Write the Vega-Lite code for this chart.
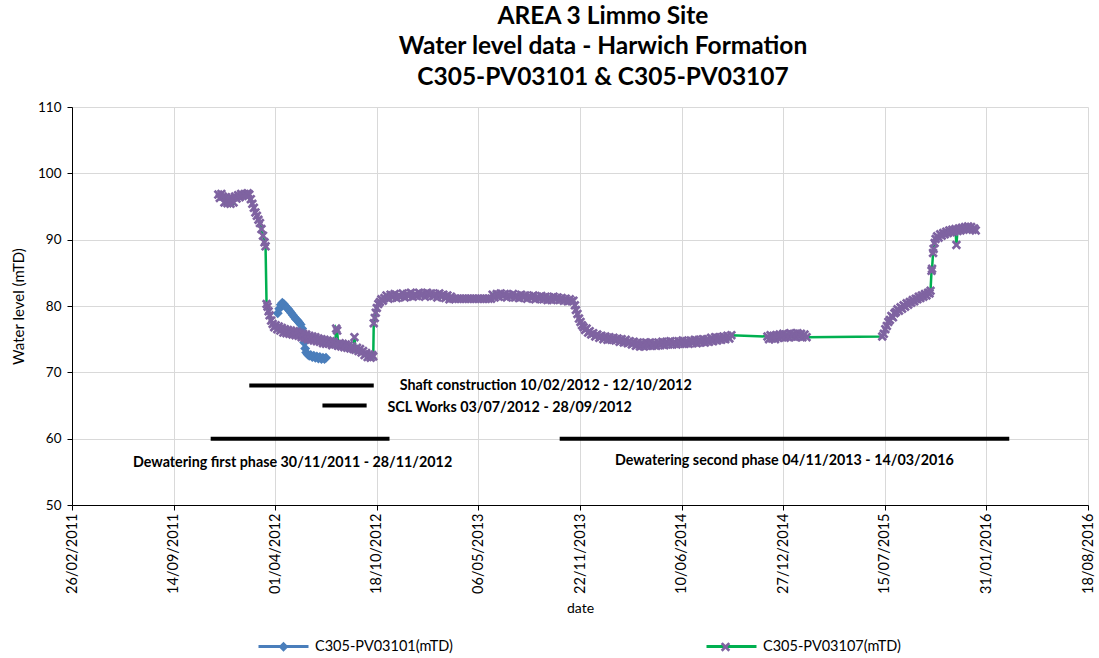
{
"$schema": "https://vega.github.io/schema/vega-lite/v6.json",
"width": 1016, "height": 398,
"autosize": {"type": "none"},
"padding": {"left": 72, "top": 107, "right": 11, "bottom": 153},
"background": "white",
"config": {"view": {"stroke": null}, "font": "Lato"},
"title": {"text": ["AREA 3 Limmo Site", "Water level data - Harwich Formation", "C305-PV03101 & C305-PV03107"], "font": "Lato", "fontSize": 24.5, "fontWeight": "bold", "color": "black", "lineHeight": 30.5, "anchor": "middle", "dx": 23, "offset": 10},
"datasets": {
"phases": [
{"date": "2012-02-10", "end": "2012-10-12", "level": 68},
{"date": "2012-07-03", "end": "2012-09-28", "level": 65},
{"date": "2011-11-26", "end": "2012-11-12", "level": 60},
{"date": "2013-10-13", "end": "2016-03-16", "level": 60}
],
"notes": [
{"date": "2012-12-02", "level": 67.9, "note": "Shaft construction 10/02/2012 - 12/10/2012"},
{"date": "2012-11-08", "level": 64.6, "note": "SCL Works 03/07/2012 - 28/09/2012"},
{"date": "2011-06-26", "level": 56.3, "note": "Dewatering first phase 30/11/2011 - 28/11/2012"},
{"date": "2014-01-30", "level": 56.6, "note": "Dewatering second phase 04/11/2013 - 14/03/2016"}
],
"levels": [
{"date":"2012-04-06","series":"C305-PV03101(mTD)","level":78.9},
{"date":"2012-04-09","series":"C305-PV03101(mTD)","level":79.6},
{"date":"2012-04-12","series":"C305-PV03101(mTD)","level":80.2},
{"date":"2012-04-15","series":"C305-PV03101(mTD)","level":80.5},
{"date":"2012-04-18","series":"C305-PV03101(mTD)","level":80.3},
{"date":"2012-04-21","series":"C305-PV03101(mTD)","level":80.0},
{"date":"2012-04-24","series":"C305-PV03101(mTD)","level":79.7},
{"date":"2012-04-27","series":"C305-PV03101(mTD)","level":79.5},
{"date":"2012-04-30","series":"C305-PV03101(mTD)","level":79.2},
{"date":"2012-05-03","series":"C305-PV03101(mTD)","level":78.9},
{"date":"2012-05-06","series":"C305-PV03101(mTD)","level":78.6},
{"date":"2012-05-09","series":"C305-PV03101(mTD)","level":78.3},
{"date":"2012-05-12","series":"C305-PV03101(mTD)","level":78.0},
{"date":"2012-05-15","series":"C305-PV03101(mTD)","level":77.8},
{"date":"2012-05-18","series":"C305-PV03101(mTD)","level":77.5},
{"date":"2012-05-21","series":"C305-PV03101(mTD)","level":77.2},
{"date":"2012-05-24","series":"C305-PV03101(mTD)","level":76.6},
{"date":"2012-05-26","series":"C305-PV03101(mTD)","level":75.6},
{"date":"2012-05-28","series":"C305-PV03101(mTD)","level":74.5},
{"date":"2012-05-30","series":"C305-PV03101(mTD)","level":73.6},
{"date":"2012-06-01","series":"C305-PV03101(mTD)","level":73.0},
{"date":"2012-06-04","series":"C305-PV03101(mTD)","level":72.7},
{"date":"2012-06-07","series":"C305-PV03101(mTD)","level":72.5},
{"date":"2012-06-10","series":"C305-PV03101(mTD)","level":72.6},
{"date":"2012-06-13","series":"C305-PV03101(mTD)","level":72.3},
{"date":"2012-06-16","series":"C305-PV03101(mTD)","level":72.5},
{"date":"2012-06-19","series":"C305-PV03101(mTD)","level":72.2},
{"date":"2012-06-22","series":"C305-PV03101(mTD)","level":72.4},
{"date":"2012-06-25","series":"C305-PV03101(mTD)","level":72.1},
{"date":"2012-06-28","series":"C305-PV03101(mTD)","level":72.3},
{"date":"2012-07-01","series":"C305-PV03101(mTD)","level":72.0},
{"date":"2012-07-04","series":"C305-PV03101(mTD)","level":72.2},
{"date":"2012-07-07","series":"C305-PV03101(mTD)","level":72.0},
{"date":"2012-07-10","series":"C305-PV03101(mTD)","level":72.2},
{"date":"2011-12-11","series":"C305-PV03107(mTD)","level":96.8},
{"date":"2011-12-14","series":"C305-PV03107(mTD)","level":96.3},
{"date":"2011-12-17","series":"C305-PV03107(mTD)","level":96.9},
{"date":"2011-12-20","series":"C305-PV03107(mTD)","level":96.5},
{"date":"2011-12-23","series":"C305-PV03107(mTD)","level":95.6},
{"date":"2011-12-26","series":"C305-PV03107(mTD)","level":96.4},
{"date":"2011-12-29","series":"C305-PV03107(mTD)","level":95.5},
{"date":"2012-01-01","series":"C305-PV03107(mTD)","level":96.2},
{"date":"2012-01-04","series":"C305-PV03107(mTD)","level":95.4},
{"date":"2012-01-07","series":"C305-PV03107(mTD)","level":96.3},
{"date":"2012-01-10","series":"C305-PV03107(mTD)","level":95.6},
{"date":"2012-01-13","series":"C305-PV03107(mTD)","level":96.5},
{"date":"2012-01-16","series":"C305-PV03107(mTD)","level":96.2},
{"date":"2012-01-19","series":"C305-PV03107(mTD)","level":96.7},
{"date":"2012-01-22","series":"C305-PV03107(mTD)","level":96.4},
{"date":"2012-01-25","series":"C305-PV03107(mTD)","level":96.9},
{"date":"2012-01-28","series":"C305-PV03107(mTD)","level":96.6},
{"date":"2012-02-01","series":"C305-PV03107(mTD)","level":96.9},
{"date":"2012-02-04","series":"C305-PV03107(mTD)","level":96.6},
{"date":"2012-02-07","series":"C305-PV03107(mTD)","level":97.0},
{"date":"2012-02-10","series":"C305-PV03107(mTD)","level":96.8},
{"date":"2012-02-13","series":"C305-PV03107(mTD)","level":96.1},
{"date":"2012-02-16","series":"C305-PV03107(mTD)","level":95.4},
{"date":"2012-02-19","series":"C305-PV03107(mTD)","level":94.8},
{"date":"2012-02-22","series":"C305-PV03107(mTD)","level":94.1},
{"date":"2012-02-25","series":"C305-PV03107(mTD)","level":93.6},
{"date":"2012-02-28","series":"C305-PV03107(mTD)","level":93.0},
{"date":"2012-03-02","series":"C305-PV03107(mTD)","level":92.5},
{"date":"2012-03-05","series":"C305-PV03107(mTD)","level":91.6},
{"date":"2012-03-08","series":"C305-PV03107(mTD)","level":90.6},
{"date":"2012-03-11","series":"C305-PV03107(mTD)","level":89.6},
{"date":"2012-03-13","series":"C305-PV03107(mTD)","level":89.0},
{"date":"2012-03-15","series":"C305-PV03107(mTD)","level":80.3},
{"date":"2012-03-17","series":"C305-PV03107(mTD)","level":79.9},
{"date":"2012-03-19","series":"C305-PV03107(mTD)","level":79.2},
{"date":"2012-03-21","series":"C305-PV03107(mTD)","level":78.6},
{"date":"2012-03-24","series":"C305-PV03107(mTD)","level":77.8},
{"date":"2012-03-27","series":"C305-PV03107(mTD)","level":77.3},
{"date":"2012-03-30","series":"C305-PV03107(mTD)","level":76.8},
{"date":"2012-04-02","series":"C305-PV03107(mTD)","level":77.1},
{"date":"2012-04-05","series":"C305-PV03107(mTD)","level":76.5},
{"date":"2012-04-08","series":"C305-PV03107(mTD)","level":76.9},
{"date":"2012-04-11","series":"C305-PV03107(mTD)","level":76.3},
{"date":"2012-04-14","series":"C305-PV03107(mTD)","level":76.7},
{"date":"2012-04-17","series":"C305-PV03107(mTD)","level":76.0},
{"date":"2012-04-20","series":"C305-PV03107(mTD)","level":76.5},
{"date":"2012-04-23","series":"C305-PV03107(mTD)","level":75.9},
{"date":"2012-04-26","series":"C305-PV03107(mTD)","level":76.4},
{"date":"2012-04-29","series":"C305-PV03107(mTD)","level":75.8},
{"date":"2012-05-02","series":"C305-PV03107(mTD)","level":76.3},
{"date":"2012-05-05","series":"C305-PV03107(mTD)","level":75.7},
{"date":"2012-05-08","series":"C305-PV03107(mTD)","level":76.2},
{"date":"2012-05-11","series":"C305-PV03107(mTD)","level":75.6},
{"date":"2012-05-14","series":"C305-PV03107(mTD)","level":76.1},
{"date":"2012-05-17","series":"C305-PV03107(mTD)","level":75.5},
{"date":"2012-05-20","series":"C305-PV03107(mTD)","level":75.9},
{"date":"2012-05-23","series":"C305-PV03107(mTD)","level":75.3},
{"date":"2012-05-26","series":"C305-PV03107(mTD)","level":75.8},
{"date":"2012-05-29","series":"C305-PV03107(mTD)","level":75.2},
{"date":"2012-06-01","series":"C305-PV03107(mTD)","level":75.7},
{"date":"2012-06-04","series":"C305-PV03107(mTD)","level":75.0},
{"date":"2012-06-07","series":"C305-PV03107(mTD)","level":75.5},
{"date":"2012-06-10","series":"C305-PV03107(mTD)","level":74.9},
{"date":"2012-06-13","series":"C305-PV03107(mTD)","level":75.4},
{"date":"2012-06-16","series":"C305-PV03107(mTD)","level":74.8},
{"date":"2012-06-19","series":"C305-PV03107(mTD)","level":75.3},
{"date":"2012-06-22","series":"C305-PV03107(mTD)","level":74.7},
{"date":"2012-06-25","series":"C305-PV03107(mTD)","level":75.1},
{"date":"2012-06-28","series":"C305-PV03107(mTD)","level":74.6},
{"date":"2012-07-01","series":"C305-PV03107(mTD)","level":75.0},
{"date":"2012-07-04","series":"C305-PV03107(mTD)","level":74.4},
{"date":"2012-07-07","series":"C305-PV03107(mTD)","level":74.9},
{"date":"2012-07-10","series":"C305-PV03107(mTD)","level":74.3},
{"date":"2012-07-13","series":"C305-PV03107(mTD)","level":74.8},
{"date":"2012-07-16","series":"C305-PV03107(mTD)","level":74.3},
{"date":"2012-07-19","series":"C305-PV03107(mTD)","level":74.7},
{"date":"2012-07-22","series":"C305-PV03107(mTD)","level":74.1},
{"date":"2012-07-25","series":"C305-PV03107(mTD)","level":74.6},
{"date":"2012-07-28","series":"C305-PV03107(mTD)","level":74.2},
{"date":"2012-07-30","series":"C305-PV03107(mTD)","level":76.6},
{"date":"2012-08-01","series":"C305-PV03107(mTD)","level":76.3},
{"date":"2012-08-03","series":"C305-PV03107(mTD)","level":74.0},
{"date":"2012-08-06","series":"C305-PV03107(mTD)","level":74.4},
{"date":"2012-08-09","series":"C305-PV03107(mTD)","level":73.9},
{"date":"2012-08-12","series":"C305-PV03107(mTD)","level":74.3},
{"date":"2012-08-15","series":"C305-PV03107(mTD)","level":73.8},
{"date":"2012-08-18","series":"C305-PV03107(mTD)","level":74.2},
{"date":"2012-08-21","series":"C305-PV03107(mTD)","level":73.7},
{"date":"2012-08-24","series":"C305-PV03107(mTD)","level":74.1},
{"date":"2012-08-27","series":"C305-PV03107(mTD)","level":73.6},
{"date":"2012-08-30","series":"C305-PV03107(mTD)","level":73.9},
{"date":"2012-09-02","series":"C305-PV03107(mTD)","level":73.5},
{"date":"2012-09-04","series":"C305-PV03107(mTD)","level":75.3},
{"date":"2012-09-06","series":"C305-PV03107(mTD)","level":73.4},
{"date":"2012-09-09","series":"C305-PV03107(mTD)","level":73.7},
{"date":"2012-09-12","series":"C305-PV03107(mTD)","level":73.2},
{"date":"2012-09-15","series":"C305-PV03107(mTD)","level":73.5},
{"date":"2012-09-18","series":"C305-PV03107(mTD)","level":73.0},
{"date":"2012-09-21","series":"C305-PV03107(mTD)","level":73.2},
{"date":"2012-09-24","series":"C305-PV03107(mTD)","level":72.6},
{"date":"2012-09-27","series":"C305-PV03107(mTD)","level":72.9},
{"date":"2012-09-30","series":"C305-PV03107(mTD)","level":72.3},
{"date":"2012-10-03","series":"C305-PV03107(mTD)","level":72.7},
{"date":"2012-10-06","series":"C305-PV03107(mTD)","level":72.2},
{"date":"2012-10-09","series":"C305-PV03107(mTD)","level":72.6},
{"date":"2012-10-11","series":"C305-PV03107(mTD)","level":72.4},
{"date":"2012-10-12","series":"C305-PV03107(mTD)","level":77.4},
{"date":"2012-10-14","series":"C305-PV03107(mTD)","level":78.2},
{"date":"2012-10-16","series":"C305-PV03107(mTD)","level":79.0},
{"date":"2012-10-18","series":"C305-PV03107(mTD)","level":79.7},
{"date":"2012-10-21","series":"C305-PV03107(mTD)","level":80.3},
{"date":"2012-10-24","series":"C305-PV03107(mTD)","level":80.6},
{"date":"2012-10-27","series":"C305-PV03107(mTD)","level":81.0},
{"date":"2012-10-30","series":"C305-PV03107(mTD)","level":80.8},
{"date":"2012-11-02","series":"C305-PV03107(mTD)","level":81.2},
{"date":"2012-11-06","series":"C305-PV03107(mTD)","level":81.6},
{"date":"2012-11-10","series":"C305-PV03107(mTD)","level":81.1},
{"date":"2012-11-14","series":"C305-PV03107(mTD)","level":81.7},
{"date":"2012-11-18","series":"C305-PV03107(mTD)","level":81.3},
{"date":"2012-11-22","series":"C305-PV03107(mTD)","level":81.8},
{"date":"2012-11-26","series":"C305-PV03107(mTD)","level":81.2},
{"date":"2012-11-30","series":"C305-PV03107(mTD)","level":81.6},
{"date":"2012-12-04","series":"C305-PV03107(mTD)","level":81.4},
{"date":"2012-12-08","series":"C305-PV03107(mTD)","level":81.9},
{"date":"2012-12-12","series":"C305-PV03107(mTD)","level":81.3},
{"date":"2012-12-16","series":"C305-PV03107(mTD)","level":81.8},
{"date":"2012-12-20","series":"C305-PV03107(mTD)","level":81.5},
{"date":"2012-12-24","series":"C305-PV03107(mTD)","level":82.0},
{"date":"2012-12-28","series":"C305-PV03107(mTD)","level":81.4},
{"date":"2013-01-01","series":"C305-PV03107(mTD)","level":81.8},
{"date":"2013-01-05","series":"C305-PV03107(mTD)","level":81.5},
{"date":"2013-01-09","series":"C305-PV03107(mTD)","level":82.0},
{"date":"2013-01-13","series":"C305-PV03107(mTD)","level":81.6},
{"date":"2013-01-17","series":"C305-PV03107(mTD)","level":81.9},
{"date":"2013-01-21","series":"C305-PV03107(mTD)","level":81.4},
{"date":"2013-01-25","series":"C305-PV03107(mTD)","level":82.0},
{"date":"2013-01-29","series":"C305-PV03107(mTD)","level":81.6},
{"date":"2013-02-02","series":"C305-PV03107(mTD)","level":81.9},
{"date":"2013-02-06","series":"C305-PV03107(mTD)","level":81.5},
{"date":"2013-02-10","series":"C305-PV03107(mTD)","level":81.8},
{"date":"2013-02-14","series":"C305-PV03107(mTD)","level":81.3},
{"date":"2013-02-18","series":"C305-PV03107(mTD)","level":81.9},
{"date":"2013-02-22","series":"C305-PV03107(mTD)","level":81.4},
{"date":"2013-02-26","series":"C305-PV03107(mTD)","level":81.7},
{"date":"2013-03-02","series":"C305-PV03107(mTD)","level":81.2},
{"date":"2013-03-06","series":"C305-PV03107(mTD)","level":81.6},
{"date":"2013-03-10","series":"C305-PV03107(mTD)","level":81.0},
{"date":"2013-03-13","series":"C305-PV03107(mTD)","level":81.4},
{"date":"2013-03-17","series":"C305-PV03107(mTD)","level":81.1},
{"date":"2013-03-22","series":"C305-PV03107(mTD)","level":81.1},
{"date":"2013-03-27","series":"C305-PV03107(mTD)","level":81.1},
{"date":"2013-04-01","series":"C305-PV03107(mTD)","level":81.1},
{"date":"2013-04-06","series":"C305-PV03107(mTD)","level":81.1},
{"date":"2013-04-11","series":"C305-PV03107(mTD)","level":81.1},
{"date":"2013-04-16","series":"C305-PV03107(mTD)","level":81.1},
{"date":"2013-04-21","series":"C305-PV03107(mTD)","level":81.1},
{"date":"2013-04-26","series":"C305-PV03107(mTD)","level":81.1},
{"date":"2013-05-01","series":"C305-PV03107(mTD)","level":81.1},
{"date":"2013-05-06","series":"C305-PV03107(mTD)","level":81.1},
{"date":"2013-05-11","series":"C305-PV03107(mTD)","level":81.1},
{"date":"2013-05-16","series":"C305-PV03107(mTD)","level":81.1},
{"date":"2013-05-21","series":"C305-PV03107(mTD)","level":81.1},
{"date":"2013-05-26","series":"C305-PV03107(mTD)","level":81.1},
{"date":"2013-05-31","series":"C305-PV03107(mTD)","level":81.1},
{"date":"2013-06-03","series":"C305-PV03107(mTD)","level":81.7},
{"date":"2013-06-07","series":"C305-PV03107(mTD)","level":81.3},
{"date":"2013-06-11","series":"C305-PV03107(mTD)","level":81.8},
{"date":"2013-06-15","series":"C305-PV03107(mTD)","level":81.4},
{"date":"2013-06-19","series":"C305-PV03107(mTD)","level":81.9},
{"date":"2013-06-23","series":"C305-PV03107(mTD)","level":81.5},
{"date":"2013-06-27","series":"C305-PV03107(mTD)","level":81.8},
{"date":"2013-07-01","series":"C305-PV03107(mTD)","level":81.3},
{"date":"2013-07-05","series":"C305-PV03107(mTD)","level":81.7},
{"date":"2013-07-09","series":"C305-PV03107(mTD)","level":81.4},
{"date":"2013-07-13","series":"C305-PV03107(mTD)","level":81.8},
{"date":"2013-07-17","series":"C305-PV03107(mTD)","level":81.3},
{"date":"2013-07-21","series":"C305-PV03107(mTD)","level":81.6},
{"date":"2013-07-25","series":"C305-PV03107(mTD)","level":81.2},
{"date":"2013-07-29","series":"C305-PV03107(mTD)","level":81.7},
{"date":"2013-08-02","series":"C305-PV03107(mTD)","level":81.3},
{"date":"2013-08-06","series":"C305-PV03107(mTD)","level":81.6},
{"date":"2013-08-10","series":"C305-PV03107(mTD)","level":81.1},
{"date":"2013-08-14","series":"C305-PV03107(mTD)","level":81.5},
{"date":"2013-08-18","series":"C305-PV03107(mTD)","level":81.2},
{"date":"2013-08-22","series":"C305-PV03107(mTD)","level":81.6},
{"date":"2013-08-26","series":"C305-PV03107(mTD)","level":81.0},
{"date":"2013-08-30","series":"C305-PV03107(mTD)","level":81.4},
{"date":"2013-09-03","series":"C305-PV03107(mTD)","level":81.1},
{"date":"2013-09-07","series":"C305-PV03107(mTD)","level":81.5},
{"date":"2013-09-11","series":"C305-PV03107(mTD)","level":81.0},
{"date":"2013-09-15","series":"C305-PV03107(mTD)","level":81.4},
{"date":"2013-09-19","series":"C305-PV03107(mTD)","level":80.9},
{"date":"2013-09-23","series":"C305-PV03107(mTD)","level":81.3},
{"date":"2013-09-27","series":"C305-PV03107(mTD)","level":80.9},
{"date":"2013-10-01","series":"C305-PV03107(mTD)","level":81.4},
{"date":"2013-10-05","series":"C305-PV03107(mTD)","level":81.0},
{"date":"2013-10-09","series":"C305-PV03107(mTD)","level":81.3},
{"date":"2013-10-13","series":"C305-PV03107(mTD)","level":80.9},
{"date":"2013-10-17","series":"C305-PV03107(mTD)","level":81.2},
{"date":"2013-10-21","series":"C305-PV03107(mTD)","level":80.8},
{"date":"2013-10-25","series":"C305-PV03107(mTD)","level":81.1},
{"date":"2013-10-29","series":"C305-PV03107(mTD)","level":80.7},
{"date":"2013-11-02","series":"C305-PV03107(mTD)","level":81.0},
{"date":"2013-11-06","series":"C305-PV03107(mTD)","level":80.7},
{"date":"2013-11-09","series":"C305-PV03107(mTD)","level":80.8},
{"date":"2013-11-12","series":"C305-PV03107(mTD)","level":80.1},
{"date":"2013-11-14","series":"C305-PV03107(mTD)","level":79.4},
{"date":"2013-11-17","series":"C305-PV03107(mTD)","level":78.8},
{"date":"2013-11-20","series":"C305-PV03107(mTD)","level":78.1},
{"date":"2013-11-23","series":"C305-PV03107(mTD)","level":77.6},
{"date":"2013-11-26","series":"C305-PV03107(mTD)","level":77.1},
{"date":"2013-11-29","series":"C305-PV03107(mTD)","level":76.8},
{"date":"2013-12-02","series":"C305-PV03107(mTD)","level":76.4},
{"date":"2013-12-05","series":"C305-PV03107(mTD)","level":76.6},
{"date":"2013-12-08","series":"C305-PV03107(mTD)","level":76.0},
{"date":"2013-12-11","series":"C305-PV03107(mTD)","level":76.2},
{"date":"2013-12-14","series":"C305-PV03107(mTD)","level":75.7},
{"date":"2013-12-18","series":"C305-PV03107(mTD)","level":75.9},
{"date":"2013-12-22","series":"C305-PV03107(mTD)","level":75.4},
{"date":"2013-12-26","series":"C305-PV03107(mTD)","level":75.7},
{"date":"2013-12-30","series":"C305-PV03107(mTD)","level":75.2},
{"date":"2014-01-03","series":"C305-PV03107(mTD)","level":75.5},
{"date":"2014-01-07","series":"C305-PV03107(mTD)","level":75.0},
{"date":"2014-01-11","series":"C305-PV03107(mTD)","level":75.4},
{"date":"2014-01-15","series":"C305-PV03107(mTD)","level":74.9},
{"date":"2014-01-19","series":"C305-PV03107(mTD)","level":75.3},
{"date":"2014-01-23","series":"C305-PV03107(mTD)","level":74.9},
{"date":"2014-01-27","series":"C305-PV03107(mTD)","level":75.2},
{"date":"2014-01-31","series":"C305-PV03107(mTD)","level":74.8},
{"date":"2014-02-04","series":"C305-PV03107(mTD)","level":75.1},
{"date":"2014-02-08","series":"C305-PV03107(mTD)","level":74.6},
{"date":"2014-02-12","series":"C305-PV03107(mTD)","level":75.0},
{"date":"2014-02-16","series":"C305-PV03107(mTD)","level":74.5},
{"date":"2014-02-20","series":"C305-PV03107(mTD)","level":74.9},
{"date":"2014-02-24","series":"C305-PV03107(mTD)","level":74.4},
{"date":"2014-02-28","series":"C305-PV03107(mTD)","level":74.7},
{"date":"2014-03-04","series":"C305-PV03107(mTD)","level":74.2},
{"date":"2014-03-08","series":"C305-PV03107(mTD)","level":74.6},
{"date":"2014-03-12","series":"C305-PV03107(mTD)","level":74.0},
{"date":"2014-03-16","series":"C305-PV03107(mTD)","level":74.5},
{"date":"2014-03-20","series":"C305-PV03107(mTD)","level":73.9},
{"date":"2014-03-24","series":"C305-PV03107(mTD)","level":74.4},
{"date":"2014-03-28","series":"C305-PV03107(mTD)","level":73.9},
{"date":"2014-04-01","series":"C305-PV03107(mTD)","level":74.5},
{"date":"2014-04-05","series":"C305-PV03107(mTD)","level":74.0},
{"date":"2014-04-09","series":"C305-PV03107(mTD)","level":74.5},
{"date":"2014-04-13","series":"C305-PV03107(mTD)","level":74.0},
{"date":"2014-04-17","series":"C305-PV03107(mTD)","level":74.4},
{"date":"2014-04-21","series":"C305-PV03107(mTD)","level":74.0},
{"date":"2014-04-25","series":"C305-PV03107(mTD)","level":74.5},
{"date":"2014-04-29","series":"C305-PV03107(mTD)","level":74.1},
{"date":"2014-05-03","series":"C305-PV03107(mTD)","level":74.6},
{"date":"2014-05-07","series":"C305-PV03107(mTD)","level":74.1},
{"date":"2014-05-11","series":"C305-PV03107(mTD)","level":74.6},
{"date":"2014-05-15","series":"C305-PV03107(mTD)","level":74.2},
{"date":"2014-05-19","series":"C305-PV03107(mTD)","level":74.7},
{"date":"2014-05-23","series":"C305-PV03107(mTD)","level":74.2},
{"date":"2014-05-27","series":"C305-PV03107(mTD)","level":74.6},
{"date":"2014-05-31","series":"C305-PV03107(mTD)","level":74.2},
{"date":"2014-06-04","series":"C305-PV03107(mTD)","level":74.7},
{"date":"2014-06-08","series":"C305-PV03107(mTD)","level":74.3},
{"date":"2014-06-12","series":"C305-PV03107(mTD)","level":74.8},
{"date":"2014-06-16","series":"C305-PV03107(mTD)","level":74.3},
{"date":"2014-06-20","series":"C305-PV03107(mTD)","level":74.7},
{"date":"2014-06-24","series":"C305-PV03107(mTD)","level":74.3},
{"date":"2014-06-28","series":"C305-PV03107(mTD)","level":74.8},
{"date":"2014-07-02","series":"C305-PV03107(mTD)","level":74.4},
{"date":"2014-07-06","series":"C305-PV03107(mTD)","level":74.9},
{"date":"2014-07-10","series":"C305-PV03107(mTD)","level":74.4},
{"date":"2014-07-14","series":"C305-PV03107(mTD)","level":74.9},
{"date":"2014-07-18","series":"C305-PV03107(mTD)","level":74.5},
{"date":"2014-07-22","series":"C305-PV03107(mTD)","level":75.0},
{"date":"2014-07-26","series":"C305-PV03107(mTD)","level":74.5},
{"date":"2014-07-30","series":"C305-PV03107(mTD)","level":75.0},
{"date":"2014-08-03","series":"C305-PV03107(mTD)","level":74.6},
{"date":"2014-08-07","series":"C305-PV03107(mTD)","level":75.2},
{"date":"2014-08-11","series":"C305-PV03107(mTD)","level":74.7},
{"date":"2014-08-15","series":"C305-PV03107(mTD)","level":75.3},
{"date":"2014-08-19","series":"C305-PV03107(mTD)","level":74.8},
{"date":"2014-08-23","series":"C305-PV03107(mTD)","level":75.3},
{"date":"2014-08-27","series":"C305-PV03107(mTD)","level":74.9},
{"date":"2014-08-31","series":"C305-PV03107(mTD)","level":75.4},
{"date":"2014-09-04","series":"C305-PV03107(mTD)","level":75.0},
{"date":"2014-09-08","series":"C305-PV03107(mTD)","level":75.5},
{"date":"2014-09-12","series":"C305-PV03107(mTD)","level":75.1},
{"date":"2014-09-16","series":"C305-PV03107(mTD)","level":75.6},
{"date":"2014-11-26","series":"C305-PV03107(mTD)","level":75.4},
{"date":"2014-11-29","series":"C305-PV03107(mTD)","level":75.0},
{"date":"2014-12-02","series":"C305-PV03107(mTD)","level":75.6},
{"date":"2014-12-05","series":"C305-PV03107(mTD)","level":75.1},
{"date":"2014-12-08","series":"C305-PV03107(mTD)","level":75.5},
{"date":"2014-12-11","series":"C305-PV03107(mTD)","level":75.0},
{"date":"2014-12-14","series":"C305-PV03107(mTD)","level":75.6},
{"date":"2014-12-17","series":"C305-PV03107(mTD)","level":75.2},
{"date":"2014-12-20","series":"C305-PV03107(mTD)","level":75.7},
{"date":"2014-12-23","series":"C305-PV03107(mTD)","level":75.3},
{"date":"2014-12-27","series":"C305-PV03107(mTD)","level":75.8},
{"date":"2014-12-30","series":"C305-PV03107(mTD)","level":75.2},
{"date":"2015-01-03","series":"C305-PV03107(mTD)","level":75.7},
{"date":"2015-01-06","series":"C305-PV03107(mTD)","level":75.3},
{"date":"2015-01-10","series":"C305-PV03107(mTD)","level":75.9},
{"date":"2015-01-13","series":"C305-PV03107(mTD)","level":75.4},
{"date":"2015-01-17","series":"C305-PV03107(mTD)","level":75.8},
{"date":"2015-01-20","series":"C305-PV03107(mTD)","level":75.3},
{"date":"2015-01-24","series":"C305-PV03107(mTD)","level":75.9},
{"date":"2015-01-27","series":"C305-PV03107(mTD)","level":75.4},
{"date":"2015-01-31","series":"C305-PV03107(mTD)","level":75.8},
{"date":"2015-02-03","series":"C305-PV03107(mTD)","level":75.3},
{"date":"2015-02-07","series":"C305-PV03107(mTD)","level":75.7},
{"date":"2015-02-11","series":"C305-PV03107(mTD)","level":75.3},
{"date":"2015-07-10","series":"C305-PV03107(mTD)","level":75.4},
{"date":"2015-07-13","series":"C305-PV03107(mTD)","level":75.8},
{"date":"2015-07-16","series":"C305-PV03107(mTD)","level":76.5},
{"date":"2015-07-19","series":"C305-PV03107(mTD)","level":77.0},
{"date":"2015-07-22","series":"C305-PV03107(mTD)","level":77.6},
{"date":"2015-07-25","series":"C305-PV03107(mTD)","level":77.9},
{"date":"2015-07-28","series":"C305-PV03107(mTD)","level":78.5},
{"date":"2015-07-31","series":"C305-PV03107(mTD)","level":78.3},
{"date":"2015-08-03","series":"C305-PV03107(mTD)","level":78.9},
{"date":"2015-08-06","series":"C305-PV03107(mTD)","level":79.1},
{"date":"2015-08-09","series":"C305-PV03107(mTD)","level":79.5},
{"date":"2015-08-12","series":"C305-PV03107(mTD)","level":79.3},
{"date":"2015-08-15","series":"C305-PV03107(mTD)","level":79.8},
{"date":"2015-08-18","series":"C305-PV03107(mTD)","level":79.6},
{"date":"2015-08-21","series":"C305-PV03107(mTD)","level":80.1},
{"date":"2015-08-24","series":"C305-PV03107(mTD)","level":79.9},
{"date":"2015-08-27","series":"C305-PV03107(mTD)","level":80.4},
{"date":"2015-08-30","series":"C305-PV03107(mTD)","level":80.2},
{"date":"2015-09-02","series":"C305-PV03107(mTD)","level":80.6},
{"date":"2015-09-05","series":"C305-PV03107(mTD)","level":80.5},
{"date":"2015-09-08","series":"C305-PV03107(mTD)","level":80.9},
{"date":"2015-09-11","series":"C305-PV03107(mTD)","level":80.7},
{"date":"2015-09-14","series":"C305-PV03107(mTD)","level":81.1},
{"date":"2015-09-17","series":"C305-PV03107(mTD)","level":81.0},
{"date":"2015-09-20","series":"C305-PV03107(mTD)","level":81.4},
{"date":"2015-09-23","series":"C305-PV03107(mTD)","level":81.2},
{"date":"2015-09-26","series":"C305-PV03107(mTD)","level":81.6},
{"date":"2015-09-29","series":"C305-PV03107(mTD)","level":81.4},
{"date":"2015-10-02","series":"C305-PV03107(mTD)","level":81.8},
{"date":"2015-10-05","series":"C305-PV03107(mTD)","level":81.6},
{"date":"2015-10-08","series":"C305-PV03107(mTD)","level":82.0},
{"date":"2015-10-11","series":"C305-PV03107(mTD)","level":81.9},
{"date":"2015-10-13","series":"C305-PV03107(mTD)","level":82.3},
{"date":"2015-10-15","series":"C305-PV03107(mTD)","level":85.3},
{"date":"2015-10-16","series":"C305-PV03107(mTD)","level":85.6},
{"date":"2015-10-18","series":"C305-PV03107(mTD)","level":88.0},
{"date":"2015-10-19","series":"C305-PV03107(mTD)","level":88.6},
{"date":"2015-10-21","series":"C305-PV03107(mTD)","level":89.5},
{"date":"2015-10-23","series":"C305-PV03107(mTD)","level":90.1},
{"date":"2015-10-26","series":"C305-PV03107(mTD)","level":90.5},
{"date":"2015-10-29","series":"C305-PV03107(mTD)","level":90.3},
{"date":"2015-11-01","series":"C305-PV03107(mTD)","level":90.8},
{"date":"2015-11-04","series":"C305-PV03107(mTD)","level":90.6},
{"date":"2015-11-07","series":"C305-PV03107(mTD)","level":91.0},
{"date":"2015-11-10","series":"C305-PV03107(mTD)","level":90.8},
{"date":"2015-11-13","series":"C305-PV03107(mTD)","level":91.2},
{"date":"2015-11-16","series":"C305-PV03107(mTD)","level":91.0},
{"date":"2015-11-19","series":"C305-PV03107(mTD)","level":91.4},
{"date":"2015-11-22","series":"C305-PV03107(mTD)","level":91.1},
{"date":"2015-11-25","series":"C305-PV03107(mTD)","level":91.5},
{"date":"2015-11-28","series":"C305-PV03107(mTD)","level":91.2},
{"date":"2015-12-01","series":"C305-PV03107(mTD)","level":91.6},
{"date":"2015-12-03","series":"C305-PV03107(mTD)","level":89.2},
{"date":"2015-12-05","series":"C305-PV03107(mTD)","level":91.3},
{"date":"2015-12-08","series":"C305-PV03107(mTD)","level":91.7},
{"date":"2015-12-11","series":"C305-PV03107(mTD)","level":91.4},
{"date":"2015-12-14","series":"C305-PV03107(mTD)","level":91.8},
{"date":"2015-12-17","series":"C305-PV03107(mTD)","level":91.5},
{"date":"2015-12-20","series":"C305-PV03107(mTD)","level":91.9},
{"date":"2015-12-23","series":"C305-PV03107(mTD)","level":91.6},
{"date":"2015-12-26","series":"C305-PV03107(mTD)","level":92.0},
{"date":"2015-12-29","series":"C305-PV03107(mTD)","level":91.6},
{"date":"2016-01-01","series":"C305-PV03107(mTD)","level":91.9},
{"date":"2016-01-04","series":"C305-PV03107(mTD)","level":91.5},
{"date":"2016-01-07","series":"C305-PV03107(mTD)","level":91.7},
{"date":"2016-01-10","series":"C305-PV03107(mTD)","level":91.4}
]
},
"encoding": {
"x": {"field": "date", "type": "temporal", "title": "date",
 "scale": {"type": "utc", "domain": [{"year": 2011, "month": 2, "date": 26, "utc": true}, {"year": 2016, "month": 8, "date": 18, "utc": true}]},
 "axis": {"values": [
  {"year": 2011, "month": 2, "date": 26, "utc": true},
  {"year": 2011, "month": 9, "date": 14, "utc": true},
  {"year": 2012, "month": 4, "date": 1, "utc": true},
  {"year": 2012, "month": 10, "date": 18, "utc": true},
  {"year": 2013, "month": 5, "date": 6, "utc": true},
  {"year": 2013, "month": 11, "date": 22, "utc": true},
  {"year": 2014, "month": 6, "date": 10, "utc": true},
  {"year": 2014, "month": 12, "date": 27, "utc": true},
  {"year": 2015, "month": 7, "date": 15, "utc": true},
  {"year": 2016, "month": 1, "date": 31, "utc": true},
  {"year": 2016, "month": 8, "date": 18, "utc": true}],
  "labelExpr": "utcFormat(datum.value, '%d/%m/%Y')", "labelAngle": 270, "labelAlign": "right", "labelBaseline": "middle",
  "labelFont": "Lato", "labelFontSize": 14.5, "labelColor": "black", "labelPadding": 3, "labelOverlap": false, "labelFlush": false,
  "tickSize": 5, "tickColor": "black", "domainColor": "black", "grid": true, "gridColor": "#D9D9D9", "gridWidth": 1,
  "titleFont": "Lato", "titleFontSize": 14, "titleFontWeight": "normal", "titleColor": "black", "titlePadding": 8}},
"y": {"field": "level", "type": "quantitative", "title": "Water level (mTD)",
 "scale": {"domain": [50, 110], "nice": false, "zero": false},
 "axis": {"values": [50, 60, 70, 80, 90, 100, 110], "labelFont": "Lato", "labelFontSize": 13.5, "labelColor": "black", "labelPadding": 6,
  "tickSize": 5, "tickColor": "black", "domainColor": "black", "grid": true, "gridColor": "#D9D9D9", "gridWidth": 1,
  "titleFont": "Lato", "titleFontSize": 15, "titleFontWeight": "normal", "titleColor": "black", "titlePadding": 11}}
},
"layer": [
{
"data": {"name": "phases"},
"mark": {"type": "rule", "color": "black", "strokeWidth": 4},
"encoding": {"x2": {"field": "end"}}
},
{
"data": {"name": "notes"},
"mark": {"type": "text", "align": "left", "baseline": "middle", "font": "Lato", "fontSize": 14.3, "fontWeight": "bold", "color": "black"},
"encoding": {"text": {"field": "note", "type": "nominal"}}
},
{
"data": {"name": "levels"},
"mark": {"type": "line", "strokeWidth": 2.5},
"encoding": {
"color": {"field": "series", "type": "nominal",
 "scale": {"domain": ["C305-PV03101(mTD)", "C305-PV03107(mTD)"], "range": ["#4A7EBB", "#00B050"]},
 "legend": {"orient": "none", "legendX": 185, "legendY": 513, "direction": "horizontal", "title": null,
  "symbolType": "stroke", "symbolSize": 2500, "symbolStrokeWidth": 3,
  "labelFont": "Lato", "labelFontSize": 14.5, "labelColor": "black", "labelOffset": 5, "columnPadding": 247}}
}
},
{
"data": {"name": "levels"},
"mark": {"type": "point", "filled": true, "size": 2500, "opacity": 1},
"encoding": {
"fill": {"field": "series", "type": "nominal",
 "scale": {"range": ["#4A7EBB", "#7F63A1"]},
 "legend": {"orient": "none", "legendX": 185, "legendY": 513, "direction": "horizontal", "title": null,
  "symbolSize": 2500, "symbolStrokeWidth": 3, "symbolStrokeColor": "transparent",
  "labelExpr": "''", "labelFont": "Lato", "labelFontSize": 14.5, "labelColor": "transparent", "labelOffset": 5, "columnPadding": 384}},
"shape": {"field": "series", "type": "nominal",
 "scale": {"range": ["M0,-0.2L0.2,0L0,0.2L-0.2,0Z", "M-0.19,-0.114L-0.114,-0.19L0,-0.076L0.114,-0.19L0.19,-0.114L0.076,0L0.19,0.114L0.114,0.19L0,0.076L-0.114,0.19L-0.19,0.114L-0.076,0Z"]},
 "legend": {"orient": "none", "legendX": 185, "legendY": 513, "direction": "horizontal", "title": null,
  "symbolSize": 2500, "symbolStrokeWidth": 3, "symbolStrokeColor": "transparent",
  "labelExpr": "''", "labelFont": "Lato", "labelFontSize": 14.5, "labelColor": "transparent", "labelOffset": 5, "columnPadding": 384}}
}
}
]
}
